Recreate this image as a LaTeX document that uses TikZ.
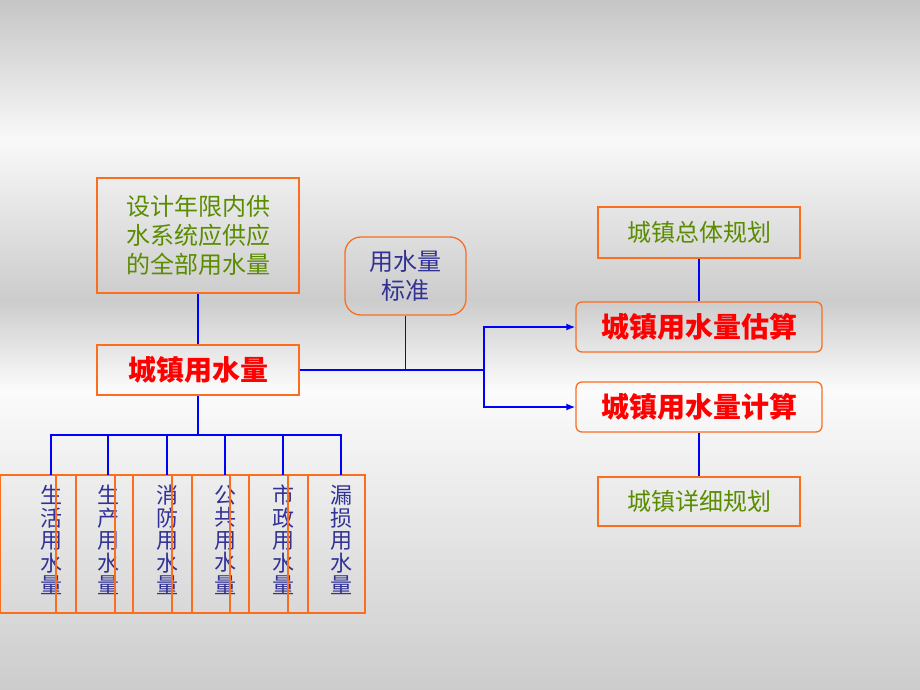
\documentclass[tikz,border=0pt]{standalone}
\usepackage{fontspec}
\usetikzlibrary{arrows.meta}
\newfontfamily\cjk{Noto Sans CJK SC}
\definecolor{org}{RGB}{250,110,30}
\definecolor{grntx}{RGB}{90,140,0}
\definecolor{vblue}{RGB}{50,50,150}
\begin{document}
\begin{tikzpicture}[x=1pt,y=-1pt,
 box/.style={draw=org,line width=1.3pt},
 ln/.style={draw=blue,line width=1.5pt},
 grn/.style={text=grntx,font=\cjk\fontsize{24}{29}\selectfont},
 red/.style={text=red,font=\cjk\bfseries\fontsize{28}{32}\selectfont},
 vt/.style={text=vblue,font=\cjk\fontsize{22}{22.5}\selectfont,align=center}]
\useasboundingbox (0,0) rectangle (920,690);
\shade[top color=gray!45,bottom color=gray!5] (0,0) rectangle (920,140);
\shade[top color=gray!5,bottom color=gray!40] (0,140) rectangle (920,300);
\shade[top color=gray!40,bottom color=gray!3] (0,300) rectangle (920,390);
\shade[top color=gray!3,bottom color=gray!40] (0,390) rectangle (920,690);
\node[box,grn,minimum width=202,minimum height=115,align=center] (def) at (198,235.5) {设计年限内供\\水系统应供应\\的全部用水量};
\node[box,red,minimum width=202,minimum height=50] (main) at (198,370) {城镇用水量};
\node[box,rounded corners=16pt,grn,text=vblue,minimum width=121,minimum height=78,align=center] (std) at (405.5,276) {用水量\\标准};
\node[box,red,rounded corners=6pt,minimum width=246,minimum height=50] (est) at (699,327) {城镇用水量估算};
\node[box,red,rounded corners=6pt,minimum width=246,minimum height=50] (calc) at (699,407) {城镇用水量计算};
\node[box,grn,minimum width=202,minimum height=51] (tot) at (699,232.5) {城镇总体规划};
\node[box,grn,minimum width=202,minimum height=49] (det) at (699,501.5) {城镇详细规划};
\draw[ln] (def) -- (main);
\draw[ln] (main.east) -- (484,370) coordinate (j);
\draw[ln] (std.south) -- (405.5,370);
\draw[ln,-{Latex[length=9pt,width=7pt]}] (j) |- (est.west);
\draw[ln,-{Latex[length=9pt,width=7pt]}] (j) |- (calc.west);
\draw[ln] (tot) -- (est);
\draw[ln] (calc) -- (det);
\foreach \l/\r/\t/\n [count=\i] in {0/76/51/生\\活\\用\\水\\量, 56/133/108/生\\产\\用\\水\\量, 115/192/167/消\\防\\用\\水\\量, 172/249/225/公\\共\\用\\水\\量, 230/308/283/市\\政\\用\\水\\量, 288/365/341/漏\\损\\用\\水\\量}{
 \draw[draw=org,line width=1.3pt] (\l,475) rectangle (\r,613);
 \node[vt] (b\i) at (\t,540) {\n};
 \coordinate (t\i) at (\t,475);
}
\coordinate (h) at (198,435);
\draw[ln] (main.south) -- (h);
\draw[ln] (t1) -- (51,435) -- (341,435) -- (t6);
\foreach \i/\x in {2/108,3/167,4/225,5/283}{\draw[ln] (t\i) -- (\x,435);}
\end{tikzpicture}
\end{document}
